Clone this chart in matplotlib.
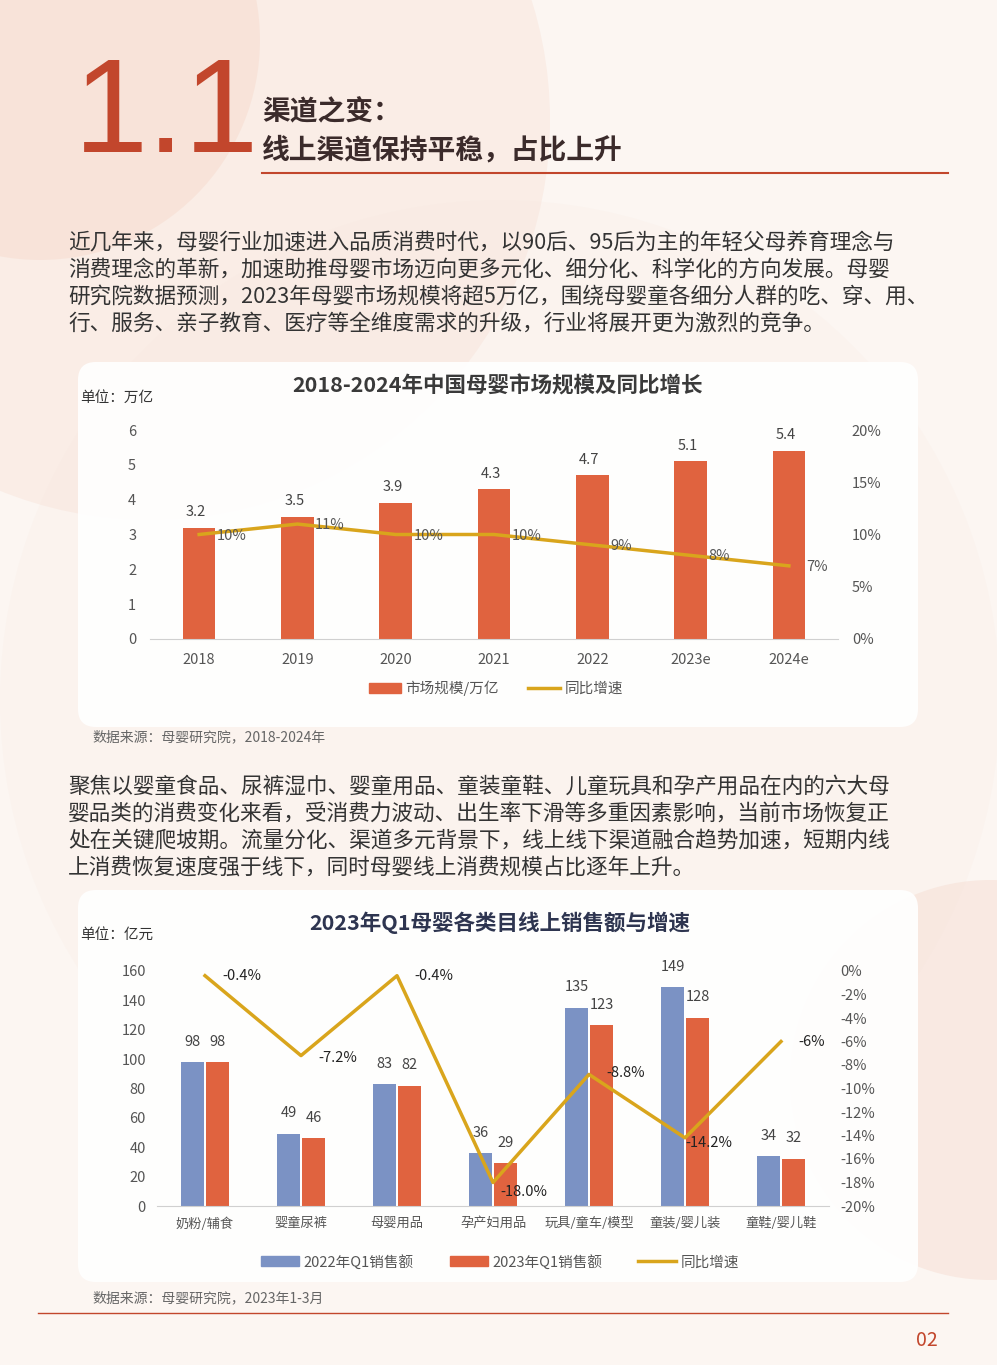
import matplotlib.pyplot as plt
import matplotlib.patches as mpatches
from matplotlib.patches import FancyBboxPatch, Circle
from matplotlib.lines import Line2D

plt.rcParams['font.family'] = ['Noto Sans CJK SC', 'DejaVu Sans']

# 数据
years = ['2018', '2019', '2020', '2021', '2022', '2023e', '2024e']
market = [3.2, 3.5, 3.9, 4.3, 4.7, 5.1, 5.4]
growth1 = [10, 11, 10, 10, 9, 8, 7]

cats = ['奶粉/辅食', '婴童尿裤', '母婴用品', '孕产妇用品', '玩具/童车/模型', '童装/婴儿装', '童鞋/婴儿鞋']
sales22 = [98, 49, 83, 36, 135, 149, 34]
sales23 = [98, 46, 82, 29, 123, 128, 32]
growth2 = [-0.4, -7.2, -0.4, -18.0, -8.8, -14.2, -6]
growth2_lbl = ['-0.4%', '-7.2%', '-0.4%', '-18.0%', '-8.8%', '-14.2%', '-6%']

W, H = 997, 1365
RED = '#c2462c'
BAR = '#e0633f'
BLUE = '#7b92c4'
GOLD = '#d9a51c'
TXT = '#333333'

fig = plt.figure(figsize=(W / 100, H / 100), dpi=100)
fig.patch.set_facecolor('#fcf6f2')

bg = fig.add_axes([0, 0, 1, 1])
bg.set_xlim(0, W)
bg.set_ylim(H, 0)
bg.axis('off')
for (cx, cy, r, c, a) in [(150, 120, 400, '#f3cdbd', 0.22), (40, 40, 220, '#f0bfa9', 0.2),
                           (990, 1080, 200, '#f3cdbd', 0.3), (500, 700, 500, '#f8e4da', 0.15)]:
    bg.add_patch(Circle((cx, cy), r, color=c, alpha=a, lw=0))


def px(x0, y0, x1, y1):
    return [x0 / W, 1 - y1 / H, (x1 - x0) / W, (y1 - y0) / H]


# 标题
bg.text(74, 118, '1.1', fontsize=96, color=RED, va='center', ha='left', family='Liberation Sans')
bg.text(262, 112, '渠道之变：', fontsize=20, weight='bold', color='#3b2b2b', va='center')
bg.text(262, 150, '线上渠道保持平稳，占比上升', fontsize=20, weight='bold', color='#3b2b2b', va='center')
bg.plot([262, 948], [173, 173], color=RED, lw=1.5)

para1 = ['近几年来，母婴行业加速进入品质消费时代，以90后、95后为主的年轻父母养育理念与',
         '消费理念的革新，加速助推母婴市场迈向更多元化、细分化、科学化的方向发展。母婴',
         '研究院数据预测，2023年母婴市场规模将超5万亿，围绕母婴童各细分人群的吃、穿、用、',
         '行、服务、亲子教育、医疗等全维度需求的升级，行业将展开更为激烈的竞争。']
for i, s in enumerate(para1):
    bg.text(68, 243 + 27 * i, s, fontsize=15.6, color=TXT, va='center')

para2 = ['聚焦以婴童食品、尿裤湿巾、婴童用品、童装童鞋、儿童玩具和孕产用品在内的六大母',
         '婴品类的消费变化来看，受消费力波动、出生率下滑等多重因素影响，当前市场恢复正',
         '处在关键爬坡期。流量分化、渠道多元背景下，线上线下渠道融合趋势加速，短期内线',
         '上消费恢复速度强于线下，同时母婴线上消费规模占比逐年上升。']
for i, s in enumerate(para2):
    bg.text(68, 787 + 27 * i, s, fontsize=15.6, color=TXT, va='center')

# 卡片
for (y0, y1) in [(362, 727), (890, 1282)]:
    bg.add_patch(FancyBboxPatch((78, y0), 840, y1 - y0, boxstyle='round,pad=0,rounding_size=18',
                                fc='white', ec='none', alpha=0.92))

# 图1
bg.text(498, 386, '2018-2024年中国母婴市场规模及同比增长', fontsize=15.5, weight='bold', color='#3a3a3a', ha='center', va='center')
bg.text(80, 398, '单位：万亿', fontsize=10.5, color=TXT, va='center')
ax1 = fig.add_axes(px(150, 430, 838, 639))
x = range(len(years))
ax1.bar(x, market, width=0.33, color=BAR, zorder=2)
for i, v in enumerate(market):
    ax1.text(i - 0.03, v + 0.45, f'{v}', ha='center', va='center', fontsize=10.5, color='#444')
ax1.set_xlim(-0.5, 6.5)
ax1.set_ylim(0, 6)
ax1.set_xticks(list(x))
ax1.set_xticklabels(years)
ax1.set_yticks(range(7))
for s in ['top', 'right', 'left']:
    ax1.spines[s].set_visible(False)
ax1.spines['bottom'].set_color('#d0d0d0')
ax1.tick_params(length=0, labelsize=10.5, labelcolor='#555', pad=10)
ax1.set_facecolor('none')
ax1b = ax1.twinx()
ax1b.plot(list(x), growth1, color=GOLD, lw=2.5, zorder=3)
for i, v in enumerate(growth1):
    ax1b.text(i + 0.18, v - 0.1, f'{v}%', ha='left', va='center', fontsize=10.5, color='#555')
ax1b.set_ylim(0, 20)
ax1b.set_yticks([0, 5, 10, 15, 20])
ax1b.set_yticklabels(['0%', '5%', '10%', '15%', '20%'])
for s in ax1b.spines.values():
    s.set_visible(False)
ax1b.tick_params(length=0, labelsize=10.5, labelcolor='#555', pad=10)
h1 = [mpatches.Patch(color=BAR, label='市场规模/万亿'), Line2D([], [], color=GOLD, lw=2.5, label='同比增速')]
fig.legend(handles=h1, loc='center', bbox_to_anchor=(496 / W, 1 - 688 / H), ncol=2, frameon=False,
           fontsize=10.5, labelcolor='#555', handlelength=2.2, handletextpad=0.3, columnspacing=2)
bg.text(92, 737, '数据来源：母婴研究院，2018-2024年', fontsize=10, color='#666', va='center')

# 图2
bg.text(500, 923, '2023年Q1母婴各类目线上销售额与增速', fontsize=15.5, weight='bold', color='#2e3550', ha='center', va='center')
bg.text(80, 935, '单位：亿元', fontsize=10.5, color=TXT, va='center')
ax2 = fig.add_axes(px(157, 971, 829, 1206))
x2 = list(range(len(cats)))
w = 0.24
ax2.bar([i - 0.13 for i in x2], sales22, width=w, color=BLUE, zorder=2)
ax2.bar([i + 0.13 for i in x2], sales23, width=w, color=BAR, zorder=2)
for i in x2:
    ax2.text(i - 0.13, sales22[i] + 14, f'{sales22[i]}', ha='center', va='center', fontsize=10.5, color='#444')
    ax2.text(i + 0.13, sales23[i] + 14, f'{sales23[i]}', ha='center', va='center', fontsize=10.5, color='#444')
ax2.set_xlim(-0.5, 6.5)
ax2.set_ylim(0, 160)
ax2.set_yticks(range(0, 161, 20))
ax2.set_xticks(x2)
ax2.set_xticklabels(cats, fontsize=9.5)
for s in ['top', 'right', 'left']:
    ax2.spines[s].set_visible(False)
ax2.spines['bottom'].set_color('#d0d0d0')
ax2.tick_params(length=0, labelsize=10.5, labelcolor='#555', pad=8)
ax2.tick_params(axis='x', labelsize=9.5)
ax2.set_facecolor('none')
ax2b = ax2.twinx()
ax2b.plot(x2, growth2, color=GOLD, lw=2.5, zorder=3)
offs = [(0.18, 0), (0.18, -0.2), (0.18, 0), (0.08, -0.8), (0.18, 0.1), (0.0, -0.4), (0.18, 0)]
for i, v in enumerate(growth2):
    dx, dy = offs[i]
    ax2b.text(i + dx, v + dy, growth2_lbl[i], ha='left', va='center', fontsize=10.5, color='#222')
ax2b.set_ylim(-20, 0)
ax2b.set_yticks(range(-20, 1, 2))
ax2b.set_yticklabels([f'{t}%' for t in range(-20, 1, 2)])
for s in ax2b.spines.values():
    s.set_visible(False)
ax2b.tick_params(length=0, labelsize=10.5, labelcolor='#555', pad=8)
h2 = [mpatches.Patch(color=BLUE, label='2022年Q1销售额'), mpatches.Patch(color=BAR, label='2023年Q1销售额'),
      Line2D([], [], color=GOLD, lw=2.5, label='同比增速')]
fig.legend(handles=h2, loc='center', bbox_to_anchor=(500 / W, 1 - 1262 / H), ncol=3, frameon=False,
           fontsize=10.5, labelcolor='#555', handlelength=2.6, handletextpad=0.3, columnspacing=2.5)
bg.text(92, 1298, '数据来源：母婴研究院，2023年1-3月', fontsize=10, color='#666', va='center')

bg.plot([38, 948], [1313, 1313], color=RED, lw=1)
bg.text(938, 1340, '02', fontsize=14, color=RED, ha='right', va='center')

fig.savefig('out.png', dpi=100, facecolor=fig.get_facecolor())
